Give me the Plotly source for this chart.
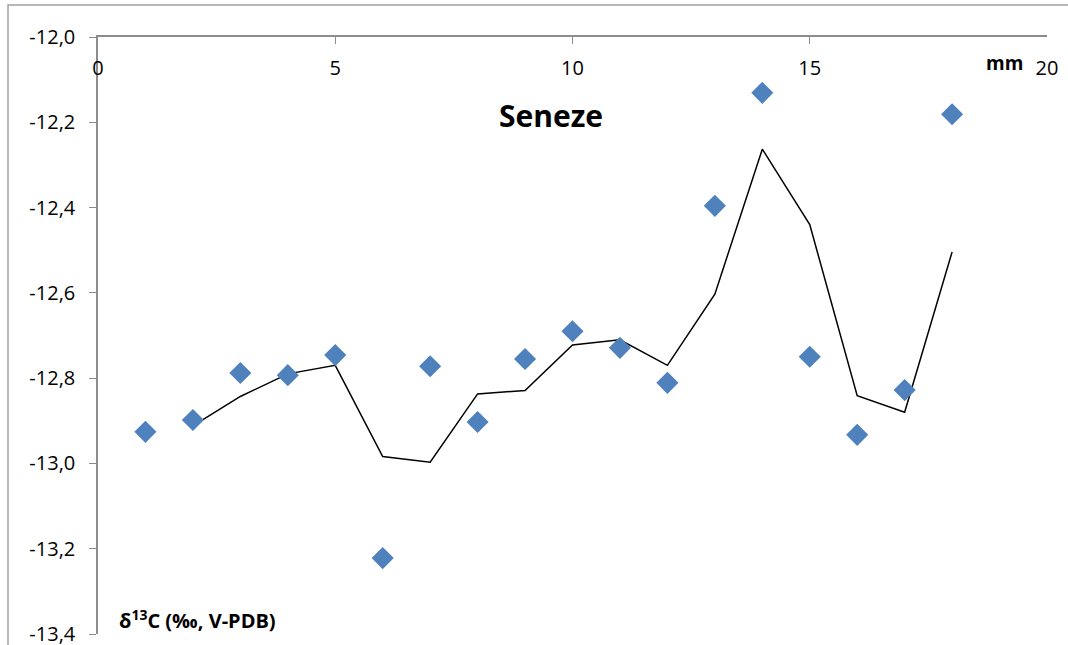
import plotly.graph_objects as go

depth_mm = [1, 2, 3, 4, 5, 6, 7, 8, 9, 10, 11, 12, 13, 14, 15, 16, 17, 18]
d13c = [-12.926, -12.898, -12.788, -12.793, -12.746, -13.222, -12.772, -12.903, -12.755,
        -12.690, -12.729, -12.811, -12.396, -12.131, -12.750, -12.933, -12.828, -12.181]

trend_x = [2, 3, 4, 5, 6, 7, 8, 9, 10, 11, 12, 13, 14, 15, 16, 17, 18]
trend_y = [-12.912, -12.843, -12.790, -12.770, -12.984, -12.997, -12.837, -12.829, -12.722,
           -12.710, -12.770, -12.603, -12.263, -12.440, -12.841, -12.880, -12.504]

x_ticks = [0, 5, 10, 15, 20]
y_ticks = [-12.0, -12.2, -12.4, -12.6, -12.8, -13.0, -13.2, -13.4]
y_tick_text = ["-12,0", "-12,2", "-12,4", "-12,6", "-12,8", "-13,0", "-13,2", "-13,4"]

FONT = "Open Sans"
AXIS = "#8c8c8c"

fig = go.Figure()
fig.add_trace(go.Scatter(x=trend_x, y=trend_y, mode="lines",
                         line=dict(color="black", width=1.5), showlegend=False))
fig.add_trace(go.Scatter(x=depth_mm, y=d13c, mode="markers",
                         marker=dict(symbol="diamond", size=17, color="#4F81BD"),
                         showlegend=False, cliponaxis=False))

fig.update_layout(
    width=1068, height=645,
    margin=dict(l=98, r=21, t=37, b=11),
    paper_bgcolor="white", plot_bgcolor="white",
    font=dict(family=FONT, size=20, color="black"),
    xaxis=dict(range=[0, 20], side="top", tickvals=x_ticks, ticks="inside", ticklen=7,
               tickcolor=AXIS, showline=True, linecolor=AXIS, linewidth=1.5,
               ticklabelposition="inside", ticklabeloverflow="allow", ticklabelstandoff=18,
               showgrid=False, zeroline=False, automargin=False,
               tickfont=dict(size=20, family=FONT, color="black")),
    yaxis=dict(range=[-13.4, -12.0], tickvals=y_ticks, ticktext=y_tick_text, ticks="outside",
               ticklen=7, tickcolor=AXIS, showline=True, linecolor=AXIS, linewidth=1.5,
               ticklabeloverflow="allow", ticklabelstandoff=10, automargin=False,
               showgrid=False, zeroline=False, tickfont=dict(size=20, family=FONT, color="black")),
    shapes=[dict(type="rect", xref="paper", yref="paper",
                 x0=(8 - 98) / 949, x1=1.05, y0=-0.05, y1=(634 - 5) / 597,
                 line=dict(color="#a0a0a0", width=1.5), fillcolor="rgba(0,0,0,0)", layer="below")],
    annotations=[
        dict(text="<b>Seneze</b>", x=9.55, y=-12.185, xref="x", yref="y", showarrow=False,
             font=dict(size=30, family=FONT, color="black")),
        dict(text="<b>mm</b>", x=19.1, y=-12.06, xref="x", yref="y", showarrow=False,
             font=dict(size=19, family=FONT, color="black")),
        dict(text="<b>δ<sup>13</sup>C (‰, V-PDB)</b>", x=0.4, y=-13.367, xref="x", yref="y",
             xanchor="left", showarrow=False, font=dict(size=20, family=FONT, color="black")),
    ],
)

fig.write_html("out.html")
